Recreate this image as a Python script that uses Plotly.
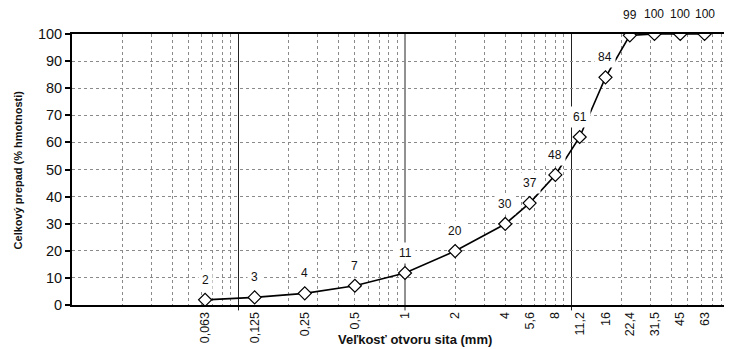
import math
import plotly.graph_objects as go

# Sieve sizes (mm) and cumulative passing (%)
sieve_mm = [0.063, 0.125, 0.25, 0.5, 1, 2, 4, 5.6, 8, 11.2, 16, 22.4, 31.5, 45, 63]
sieve_text = ["0,063", "0,125", "0,25", "0,5", "1", "2", "4", "5,6", "8", "11,2", "16", "22,4", "31,5", "45", "63"]
passing_pct = [1.9, 2.8, 4.3, 7.1, 11.8, 19.9, 29.9, 37.6, 48, 62, 84, 99.5, 100, 100, 100]
passing_label = ["2", "3", "4", "7", "11", "20", "30", "37", "48", "61", "84", "99", "100", "100", "100"]

decades = [0.1, 1, 10]
minor_grid = [k * 10.0 ** e for e in range(-2, 2) for k in range(2, 10)]

FONT = "Liberation Sans, Arial, sans-serif"

fig = go.Figure()
fig.add_trace(go.Scatter(
    x=sieve_mm, y=passing_pct, mode="lines+markers",
    line=dict(color="black", width=1.6),
    marker=dict(symbol="diamond", size=10, color="white", line=dict(color="black", width=1.2)),
    cliponaxis=True, showlegend=False, hoverinfo="x+y",
))

for xv, yv, t in zip(sieve_mm, passing_pct, passing_label):
    fig.add_annotation(x=math.log10(xv), y=yv, text=t, showarrow=False, yshift=20,
                       bgcolor="white", borderpad=3,
                       font=dict(family=FONT, size=12, color="#111"))

for d in decades:
    fig.add_shape(type="line", xref="x", yref="paper", x0=d, x1=d, y0=-0.02, y1=1,
                  line=dict(color="#222", width=1), layer="below")

fig.add_annotation(xref="paper", yref="paper", x=0.52, y=-0.127, xanchor="center", yanchor="middle",
                   text="<b>Veľkosť otvoru sita (mm)</b>",
                   showarrow=False, font=dict(family=FONT, size=13, color="#111"))
fig.add_annotation(xref="paper", yref="paper", x=-0.082, y=0.5, xanchor="center", yanchor="middle",
                   text="<b>Celkový prepad (% hmotnosti)</b>",
                   textangle=-90, showarrow=False, font=dict(family=FONT, size=11, color="#111"))

fig.update_xaxes(
    type="log", range=[-2, 1.964], automargin=False,
    tickmode="array", tickvals=sieve_mm, ticktext=sieve_text, tickangle=-90,
    ticks="", showgrid=False, zeroline=False,
    showline=True, linecolor="black", linewidth=2, mirror=True,
    tickfont=dict(family=FONT, size=12.5, color="#111"),
    minor=dict(tickmode="array", tickvals=minor_grid, showgrid=True,
               gridcolor="#8a8a8a", griddash="dot", gridwidth=1, ticks=""),
)
fig.update_yaxes(
    range=[0, 100], dtick=10, tick0=0, automargin=False,
    ticks="outside", ticklen=5, tickcolor="black", tickwidth=1.5,
    showgrid=True, gridcolor="#8a8a8a", griddash="dot", gridwidth=1,
    zeroline=False, showline=True, linecolor="black", linewidth=2,
    tickfont=dict(family=FONT, size=14.5, color="#111"),
)

fig.update_layout(
    width=724, height=341,
    margin=dict(l=64, r=0, t=26, b=44, autoexpand=False),
    paper_bgcolor="white", plot_bgcolor="white",
    font=dict(family=FONT, color="#111"),
)

fig.write_html("out.html")
